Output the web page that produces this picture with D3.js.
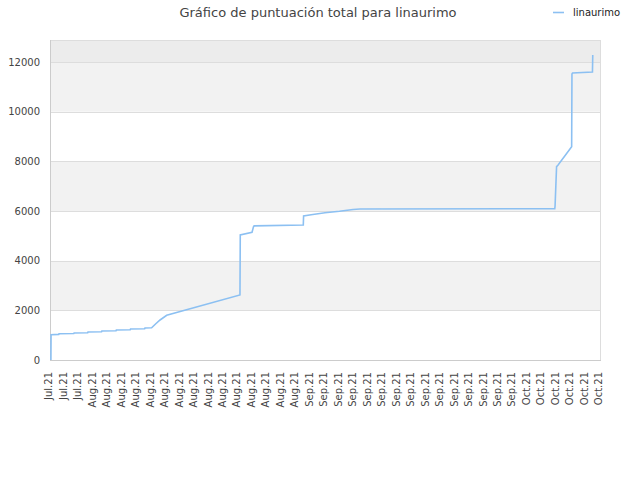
<!DOCTYPE html>
<html>
<head>
<meta charset="utf-8">
<script src="https://cdn.jsdelivr.net/npm/d3@7"></script>
<style>
html,body{margin:0;padding:0;background:#fff;}
svg{display:block;font-family:"DejaVu Sans",sans-serif;}
</style>
</head>
<body>
<svg id="chart" width="640" height="480"></svg>
<script>
// ---- data ----
const title = "Gráfico de puntuación total para linaurimo";
const seriesName = "linaurimo";
const dates = [
  "2021-07-27T03:00","2021-07-27T03:30","2021-07-28T05:00","2021-07-28T06:00",
  "2021-07-30T07:00","2021-07-30T08:00","2021-08-01T05:00","2021-08-01T06:00",
  "2021-08-03T03:00","2021-08-03T04:00","2021-08-05T03:00","2021-08-05T04:00",
  "2021-08-07T02:00","2021-08-07T03:00","2021-08-09T02:00","2021-08-09T03:00",
  "2021-08-10T01:00","2021-08-10T14:00","2021-08-11T05:00","2021-08-12T03:00",
  "2021-08-22T06:00","2021-08-22T07:00",
  "2021-08-23T22:00","2021-08-24T03:00","2021-08-24T05:00","2021-08-31T00:00",
  "2021-08-31T01:00","2021-09-01T02:00","2021-09-03T00:00","2021-09-05T00:00",
  "2021-09-06T21:00","2021-09-07T20:00","2021-10-04T18:00","2021-10-04T19:00",
  "2021-10-05T00:00","2021-10-05T05:00","2021-10-07T02:00","2021-10-07T03:00",
  "2021-10-07T05:00","2021-10-09T23:00","2021-10-10T00:00"
];
const scores = [
  0,1020,1030,1060,1070,1090,1100,1130,1140,1170,1180,1210,1220,1250,1260,1289,
  1300,1450,1611,1800,2617,5034,5142,5370,5400,5437,5799,5850,5930,5990,6060,6081,
  6090,6200,7785,7850,8590,11517,11560,11597,12282
];
const yTicks = [0,2000,4000,6000,8000,10000,12000];
const xStart = "2021-07-27", xEnd = "2021-10-11";
const yMax = 12886;

// ---- chart ----
const svg = d3.select("#chart");
const L = 50, R = 600, T = 40, B = 360;
const parse = d3.timeParse("%Y-%m-%dT%H:%M");
const parseDay = d3.timeParse("%Y-%m-%d");
const data = dates.map((d,i)=>({t:parse(d), v:scores[i]}));

const x = d3.scaleTime().domain([parseDay(xStart), parseDay(xEnd)]).range([L,R]);
const y = d3.scaleLinear().domain([0,yMax]).range([B,T]);

// background bands
const bandEdges = yTicks.concat([yMax]);
for (let i=0;i<bandEdges.length-1;i++){
  let fill = (i%2===1) ? "#f2f2f2" : "#ffffff";
  if (i===bandEdges.length-2) fill = "#ececec";
  svg.append("rect").attr("x",L).attr("width",R-L)
    .attr("y",y(bandEdges[i+1])).attr("height",y(bandEdges[i])-y(bandEdges[i+1]))
    .attr("fill",fill);
}
// grid lines
svg.append("g").selectAll("line").data(yTicks).join("line")
  .attr("x1",L).attr("x2",R)
  .attr("y1",d=>Math.round(y(d))+0.5).attr("y2",d=>Math.round(y(d))+0.5)
  .attr("stroke","#dddddd").attr("stroke-width",1);
// frame
svg.append("rect").attr("x",L+0.5).attr("y",T+0.5).attr("width",R-L).attr("height",B-T)
  .attr("fill","none").attr("stroke","#dddddd");
svg.append("line").attr("x1",L+0.5).attr("x2",L+0.5).attr("y1",T).attr("y2",B+1)
  .attr("stroke","#cccccc");
svg.append("line").attr("x1",L).attr("x2",R+1).attr("y1",B+0.5).attr("y2",B+0.5)
  .attr("stroke","#cccccc");

// y axis
const yAxis = d3.axisLeft(y).tickValues(yTicks).tickSize(0).tickPadding(10).tickFormat(d3.format("d"));
const gy = svg.append("g").attr("transform",`translate(${L},0)`).call(yAxis);
gy.select(".domain").remove();
gy.selectAll("text").attr("fill","#444").attr("font-size",10).attr("font-family","DejaVu Sans");

// x axis
const xTickVals = d3.timeDay.range(parseDay(xStart), d3.timeDay.offset(parseDay(xEnd),1), 2);
const xAxis = d3.axisBottom(x).tickValues(xTickVals).tickSize(0).tickFormat(d3.timeFormat("%b.%y"));
const gx = svg.append("g").attr("transform",`translate(0,${B})`).call(xAxis);
gx.select(".domain").remove();
gx.selectAll("text")
  .attr("fill","#444").attr("font-size",10).attr("font-family","DejaVu Sans")
  .attr("text-anchor","end")
  .attr("transform","rotate(-90)")
  .attr("x",-12).attr("y",0).attr("dy","0.18em");

// line
const line = d3.line().x(d=>x(d.t)).y(d=>y(d.v));
svg.append("path").datum(data).attr("d",line)
  .attr("fill","none").attr("stroke","#8cc0f2").attr("stroke-width",1.6);

// title
svg.append("text").attr("x",318).attr("y",17).attr("text-anchor","middle")
  .attr("font-size",13).attr("fill","#444").text(title);

// legend
svg.append("line").attr("x1",553).attr("x2",564).attr("y1",12.5).attr("y2",12.5)
  .attr("stroke","#8cc0f2").attr("stroke-width",1.6);
svg.append("text").attr("x",573).attr("y",16).attr("font-size",10).attr("fill","#222").text(seriesName);
</script>
</body>
</html>
